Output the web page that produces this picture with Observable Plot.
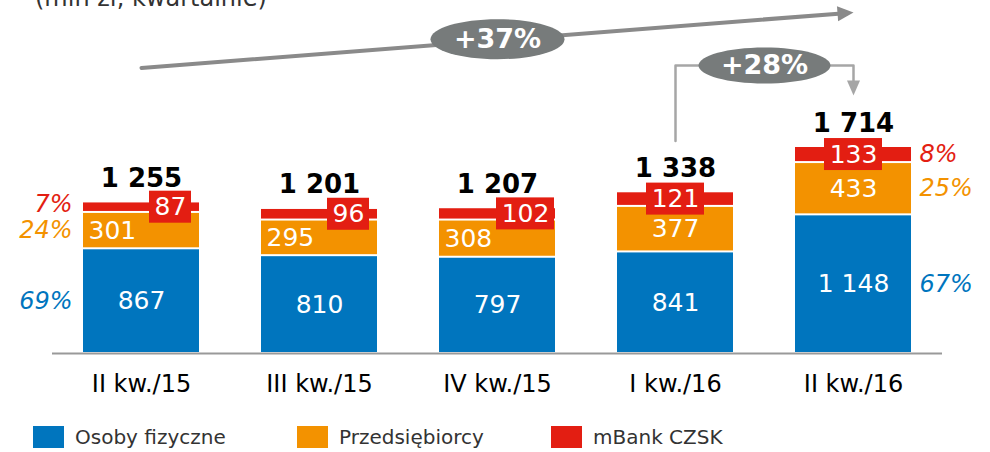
<!DOCTYPE html>
<html>
<head>
<meta charset="utf-8">
<script src="https://cdn.jsdelivr.net/npm/d3@7"></script>
<script src="https://cdn.jsdelivr.net/npm/@observablehq/plot@0.6"></script>
<style>
  html, body { margin: 0; padding: 0; background: white; overflow: hidden; }
  #wrap { position: relative; width: 990px; height: 452px; font-family: "DejaVu Sans", Verdana, sans-serif; }
  #title { position: absolute; left: 35px; top: -14px; font-size: 24px; line-height: 24px; color: #333; white-space: nowrap; }
  #legend { position: absolute; left: 33px; top: 425px; display: flex; font-size: 20px; color: #333; }
  .item { display: flex; align-items: center; }
  .sw { width: 31px; height: 22px; margin-right: 11px; }
</style>
</head>
<body>
<div id="wrap">
  <div id="chart"></div>
  <div id="title">(mln zł, kwartalnie)</div>
  <div id="legend"></div>
</div>
<script>
const categories = ["II kw./15", "III kw./15", "IV kw./15", "I kw./16", "II kw./16"];
const osoby = [867, 810, 797, 841, 1148];
const przedsiebiorcy = [301, 295, 308, 377, 433];
const czsk = [87, 96, 102, 121, 133];
const totals = [1255, 1201, 1207, 1338, 1714];
const seriesNames = ["Osoby fizyczne", "Przedsiębiorcy", "mBank CZSK"];
const seriesColors = ["#0075BE", "#F39200", "#E31E12"];

const font = "DejaVu Sans, Verdana, sans-serif";
const H = 452, MB = 99, yMax = 2923;
const baseY = H - MB;
const k = baseY / yMax;              // px per unit
const px = p => p / k;               // pixel offset -> data units
const BW = 116, STEP = 178;

const fmt = v => v >= 1000 ? d3.format(",")(v).replace(/,/g, " ") : String(v);

const values = [osoby, przedsiebiorcy, czsk];
const segs = categories.flatMap((c, i) => {
  let y0 = 0;
  return values.map((arr, j) => {
    const v = arr[i];
    const r = {cat: c, i, s: seriesNames[j], j, y1: y0, y2: y0 + v, v};
    y0 += v;
    return r;
  });
});
const seg = j => segs.filter(d => d.j === j);

// custom symbols
function ellipse(rx, ry) {
  const K = 0.5523, kx = rx * K, ky = ry * K;
  return {draw(ctx) {
    ctx.moveTo(-rx, 0);
    ctx.bezierCurveTo(-rx, -ky, -kx, -ry, 0, -ry);
    ctx.bezierCurveTo(kx, -ry, rx, -ky, rx, 0);
    ctx.bezierCurveTo(rx, ky, kx, ry, 0, ry);
    ctx.bezierCurveTo(-kx, ry, -rx, ky, -rx, 0);
    ctx.closePath();
  }};
}
function head(angle, L, W) {
  const cx = Math.cos(angle), sy = Math.sin(angle);
  const bx = -L * cx, by = -L * sy;
  const qx = -sy * W / 2, qy = cx * W / 2;
  return {draw(ctx) {
    ctx.moveTo(0, 0);
    ctx.lineTo(bx + qx, by + qy);
    ctx.lineTo(bx - qx, by - qy);
    ctx.closePath();
  }};
}

// red boxes per category
const redMarks = [];
categories.forEach((c, i) => {
  const d = seg(2)[i];
  const len = String(d.v).length;
  const w = len <= 2 ? 42 : 58;
  let iR, iL;
  if (i < 3) { iR = len <= 2 ? 8 : 1; iL = BW - w - iR; }
  else { iL = (BW - w) / 2; iR = iL; }
  const mid = (d.y1 + d.y2) / 2;
  redMarks.push(Plot.barY([d], {x: "cat", y1: () => mid - px(16), y2: () => mid + px(16), fill: seriesColors[2], insetLeft: iL, insetRight: iR}));
  redMarks.push(Plot.text([d], {x: "cat", y: () => mid, text: dd => fmt(dd.v), fill: "white", fontSize: 25, fontFamily: font, lineAnchor: "middle", dx: (iL - iR) / 2}));
});

// annotations
const g37 = Math.round((totals[4] / totals[0] - 1) * 100);
const g28 = Math.round((totals[4] / totals[3] - 1) * 100);
const a1 = totals[0] + px(134), a2 = totals[4] + px(134);
const angle37 = -Math.atan2((totals[4] - totals[0]) * k, 4 * STEP);
const yTop28 = totals[4] + px(81);
const grey = "#777b7b";

const pctFirst = segs.filter(d => d.i === 0);
const pctLast = segs.filter(d => d.i === 4);

const plot = Plot.plot({
  width: 990,
  height: H,
  marginTop: 0,
  marginBottom: MB,
  marginLeft: 52,
  marginRight: 48,
  style: {fontFamily: font, fontSize: "24px", color: "black", background: "white", overflow: "visible"},
  x: {domain: categories, paddingInner: 0.348, paddingOuter: 0.174, tickSize: 0, tickPadding: 21, label: null},
  y: {domain: [0, yMax], axis: null},
  color: {domain: seriesNames, range: seriesColors},
  marks: [
    Plot.barY(segs, {x: "cat", y1: "y1", y2: "y2", fill: "s", insetTop: 1, insetBottom: 1}),
    Plot.ruleY([0], {stroke: "#999", strokeWidth: 2}),
    // blue labels
    Plot.text(seg(0), {x: "cat", y: d => (d.y1 + d.y2) / 2, text: d => fmt(d.v), fill: "white", fontSize: 25, fontFamily: font, lineAnchor: "middle"}),
    // orange labels
    Plot.text(seg(1).filter(d => d.i < 3), {x: "cat", y: d => (d.y1 + d.y2) / 2, text: d => fmt(d.v), fill: "white", fontSize: 25, fontFamily: font, lineAnchor: "middle", textAnchor: "start", dx: -BW / 2 + 5}),
    Plot.text(seg(1).filter(d => d.i >= 3), {x: "cat", y: d => (d.y1 + d.y2) / 2, text: d => fmt(d.v), fill: "white", fontSize: 25, fontFamily: font, lineAnchor: "middle"}),
    ...redMarks,
    // totals
    Plot.text(categories, {x: d => d, y: (d, i) => totals[i], text: (d, i) => fmt(totals[i]), fill: "black", fontSize: 26, fontWeight: "bold", fontFamily: font, lineAnchor: "bottom", dy: -15}),
    // percentages first & last
    Plot.text(pctFirst.filter(d => d.j < 2), {x: "cat", y: d => (d.y1 + d.y2) / 2, text: d => Math.round(d.v / totals[0] * 100) + "%", fill: d => seriesColors[d.j], fontSize: 24, fontStyle: "italic", fontFamily: font, lineAnchor: "middle", textAnchor: "end", dx: -BW / 2 - 11}),
    Plot.text(pctFirst.filter(d => d.j === 2), {x: "cat", y: d => (d.y1 + d.y2) / 2, text: d => Math.round(d.v / totals[0] * 100) + "%", fill: d => seriesColors[d.j], fontSize: 24, fontStyle: "italic", fontFamily: font, lineAnchor: "middle", textAnchor: "end", dx: -BW / 2 - 11, dy: -3}),
    Plot.text(pctLast, {x: "cat", y: d => (d.y1 + d.y2) / 2, text: d => Math.round(d.v / totals[4] * 100) + "%", fill: d => seriesColors[d.j], fontSize: 24, fontStyle: "italic", fontFamily: font, lineAnchor: "middle", textAnchor: "start", dx: BW / 2 + 8}),
    // +37% arrow
    Plot.arrow([0], {x1: () => categories[0], y1: () => a1, x2: () => categories[4], y2: () => a2, stroke: "#8a8a8a", strokeWidth: 4, headLength: 0, insetEnd: 12}),
    Plot.dot([0], {x: () => categories[4], y: () => a2, symbol: head(angle37, 16, 15), fill: "#8a8a8a", stroke: "none"}),
    Plot.dot([0], {x: () => categories[2], y: () => (a1 + a2) / 2, symbol: ellipse(67, 20), fill: grey, stroke: "none", dy: -1}),
    Plot.text([0], {x: () => categories[2], y: () => (a1 + a2) / 2, text: () => "+" + g37 + "%", fill: "white", fontSize: 27, fontWeight: "bold", fontFamily: font, lineAnchor: "middle", dy: -1}),
    // +28% connector
    Plot.line([
      {x: categories[3], y: totals[3] + px(51)},
      {x: categories[3], y: yTop28},
      {x: categories[4], y: yTop28},
      {x: categories[4], y: totals[4] + px(63)}
    ], {x: "x", y: "y", stroke: "#a6a6a6", strokeWidth: 2.5}),
    Plot.dot([0], {x: () => categories[4], y: () => totals[4] + px(51), symbol: head(Math.PI / 2, 15, 13), fill: "#a6a6a6", stroke: "none"}),
    Plot.dot([0], {x: () => categories[3], y: () => yTop28, symbol: ellipse(66, 18), fill: grey, stroke: "none", dx: STEP / 2}),
    Plot.text([0], {x: () => categories[3], y: () => yTop28, text: () => "+" + g28 + "%", fill: "white", fontSize: 27, fontWeight: "bold", fontFamily: font, lineAnchor: "middle", dx: STEP / 2})
  ]
});
document.getElementById("chart").appendChild(plot);

const legend = document.getElementById("legend");
const itemWidths = [264, 254, 200];
seriesNames.forEach((name, j) => {
  const it = document.createElement("div");
  it.className = "item";
  it.style.width = itemWidths[j] + "px";
  it.innerHTML = `<div class="sw" style="background:${seriesColors[j]}"></div><span>${name}</span>`;
  legend.appendChild(it);
});
</script>
</body>
</html>
